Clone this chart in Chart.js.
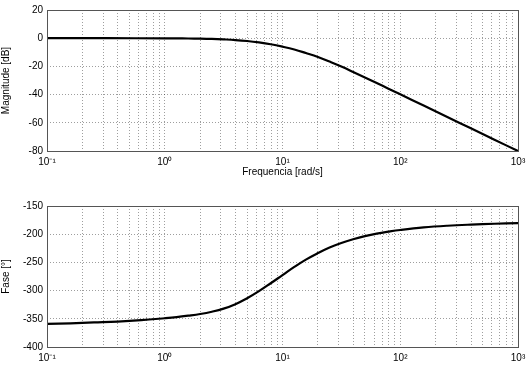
<!DOCTYPE html>
<html><head><meta charset="utf-8">
<script src="https://cdn.jsdelivr.net/npm/chart.js@4"></script>
<style>
html,body{margin:0;padding:0;background:#fff;}
#wrap{position:relative;width:532px;height:367px;}
canvas{position:absolute;left:0;}
#c1{top:0;} #c2{top:190px;}
</style></head><body>
<div id="wrap"><canvas id="c1" width="532" height="190"></canvas><canvas id="c2" width="532" height="177"></canvas></div>
<script>
const freqMag = [0.1,0.316,1,1.26,1.58,2,2.51,3.16,3.98,5.01,6.31,7.94,10,12.6,15.8,20,25.1,31.6,39.8,50.1,63.1,79.4,100,158,251,398,631,1000];
const magnitude = [0,0,-0.1,-0.15,-0.2,-0.3,-0.5,-0.85,-1.3,-2.0,-3.0,-4.3,-6.0,-8.0,-10.5,-13.3,-16.6,-20.1,-23.9,-27.8,-31.8,-35.8,-39.8,-47.8,-55.9,-63.9,-72,-80];
const freqPhase = [0.1,0.158,0.251,0.398,0.631,1,1.26,1.58,2,2.51,3.16,3.98,5.01,6.31,7.94,10,12.6,15.8,20,25.1,31.6,39.8,50.1,63.1,79.4,100,158,251,398,631,1000];
const phase = [-359,-358,-356.5,-355,-352.5,-349,-347,-344.5,-341.5,-337.5,-332,-324,-313.5,-301,-287,-272.5,-258,-245,-233.5,-223.5,-215.5,-209,-203.5,-199,-195.5,-192.5,-188,-185,-183,-181.5,-180.5];
const xTickLabels = {0.1:'10⁻¹',1:'10⁰',10:'10¹',100:'10²',1000:'10³'};
const magTicks = [20,0,-20,-40,-60,-80];
const phaseTicks = [-150,-200,-250,-300,-350,-400];

const FONT = 'Liberation Sans, Arial, sans-serif';
const gridCol = 'rgba(0,0,0,0.38)';

const boxPlugin = {
  id:'box',
  afterDraw(chart){
    const a = chart.chartArea, ctx = chart.ctx;
    ctx.save();
    ctx.strokeStyle = '#555'; ctx.lineWidth = 1; ctx.setLineDash([]);
    ctx.strokeRect(Math.round(a.left)+0.5, Math.round(a.top)+0.5, Math.round(a.right-a.left), Math.round(a.bottom-a.top));
    ctx.restore();
  }
};

function logTicks(){
  const t=[];
  for(let e=-1;e<3;e++){ for(let m=1;m<10;m++){ t.push(+(m*Math.pow(10,e)).toPrecision(3)); } }
  t.push(1000);
  return t;
}

function makeChart(id, xs, ys, yTicks, yTitle, xTitle, padTop, padBottom, xHeight){
  const data = xs.map((x,i)=>({x:x,y:ys[i]}));
  return new Chart(document.getElementById(id), {
    type:'line',
    data:{datasets:[{data:data, borderColor:'#000', borderWidth:2.2, pointRadius:0, tension:0.4, fill:false}]},
    plugins:[boxPlugin],
    options:{
      responsive:false, animation:false, devicePixelRatio:1,
      layout:{padding:{left:0,right:14,top:padTop,bottom:padBottom}},
      plugins:{legend:{display:false}, tooltip:{enabled:false}},
      scales:{
        x:{type:'logarithmic', min:0.1, max:1000,
          afterBuildTicks(s){ s.ticks = logTicks().map(v=>({value:v})); },
          afterFit(s){ s.height = xHeight; },
          ticks:{autoSkip:false, maxRotation:0, padding:5, color:'#000', font:{family:FONT,size:10},
            callback:(v)=> xTickLabels[v] !== undefined ? xTickLabels[v] : ''},
          grid:{color:gridCol, lineWidth:1, drawTicks:false},
          border:{display:false, dash:[1,2]},
          title:{display:!!xTitle, text:xTitle, color:'#000', font:{family:FONT,size:10}, padding:{top:0,bottom:0}}
        },
        y:{type:'linear', min:yTicks[yTicks.length-1], max:yTicks[0],
          afterBuildTicks(s){ s.ticks = yTicks.map(v=>({value:v})); },
          afterFit(s){ s.width = 47; },
          ticks:{padding:4, color:'#000', font:{family:FONT,size:10}},
          grid:{color:gridCol, lineWidth:1, drawTicks:false},
          border:{display:false, dash:[1,2]},
          title:{display:true, text:yTitle, color:'#000', font:{family:FONT,size:10}, padding:{top:0,bottom:4}}
        }
      }
    }
  });
}

makeChart('c1', freqMag, magnitude, magTicks, 'Magnitude [dB]', 'Frequencia [rad/s]', 8, 12, 27);
makeChart('c2', freqPhase, phase, phaseTicks, 'Fase [°]', '', 16, 0, 20);
</script>
</body></html>
